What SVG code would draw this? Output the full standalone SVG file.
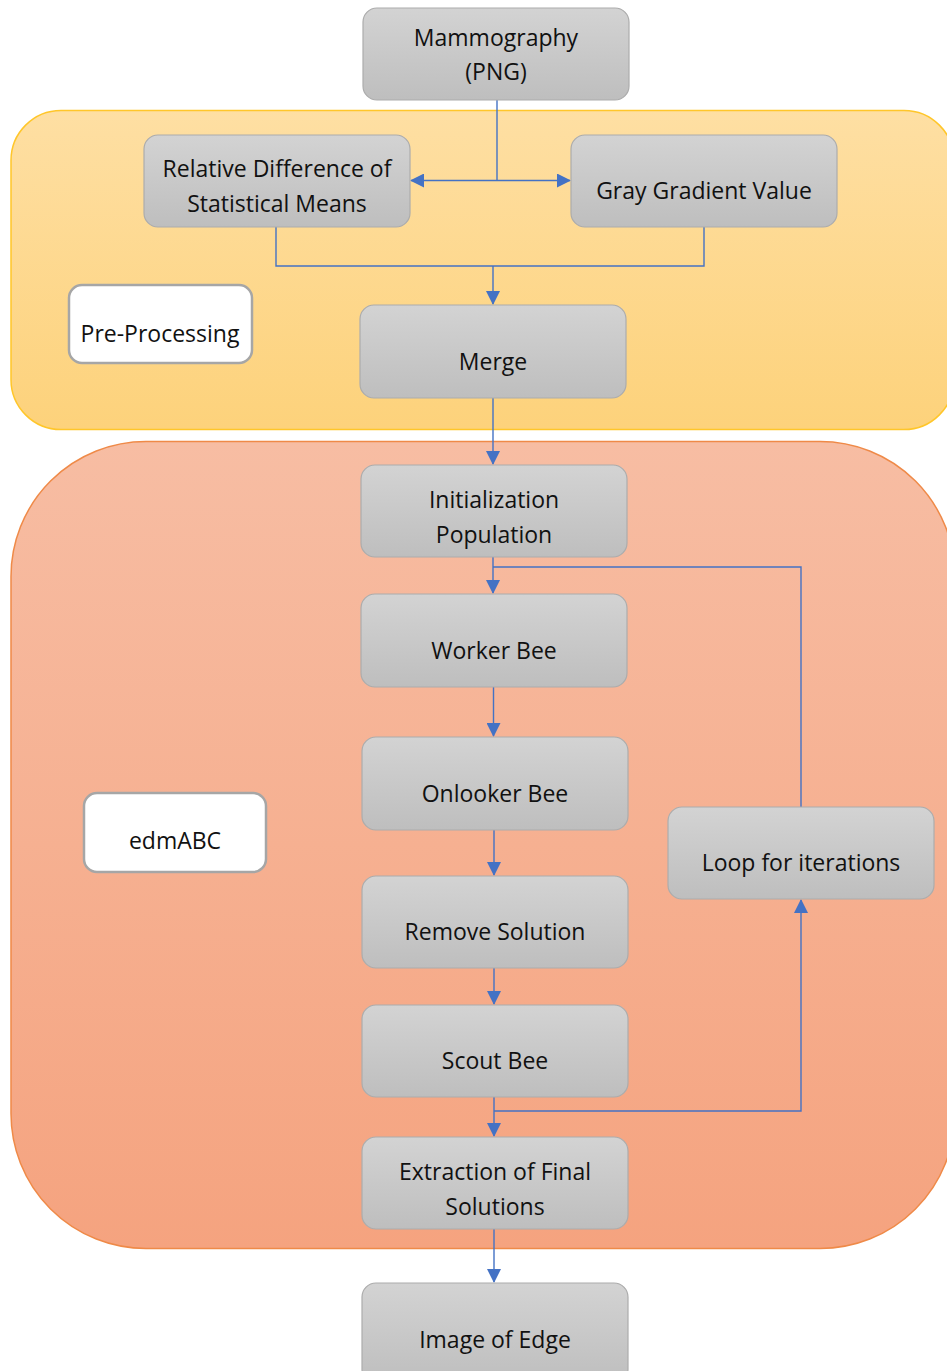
<svg xmlns="http://www.w3.org/2000/svg" width="947" height="1371" viewBox="0 0 947 1371">
  <defs>
    <linearGradient id="gBox" x1="0" y1="0" x2="0" y2="1">
      <stop offset="0" stop-color="#d3d3d3"/>
      <stop offset="1" stop-color="#bebebe"/>
    </linearGradient>
    <linearGradient id="gYellow" x1="0" y1="0" x2="0" y2="1">
      <stop offset="0" stop-color="#fedfa3"/>
      <stop offset="1" stop-color="#fdd27b"/>
    </linearGradient>
    <linearGradient id="gOrange" x1="0" y1="0" x2="0" y2="1">
      <stop offset="0" stop-color="#f7bda3"/>
      <stop offset="1" stop-color="#f5a37f"/>
    </linearGradient>
    <marker id="arrow" viewBox="0 0 14 14" refX="13" refY="7" markerWidth="14" markerHeight="14" markerUnits="userSpaceOnUse" orient="auto">
      <path d="M0,0 L14,7 L0,14 Z" fill="#4472c4"/>
    </marker>
  </defs>
  <style>
    .box { fill: url(#gBox); stroke: #acacac; stroke-width: 1.2; }
    .label { fill: #ffffff; stroke: #a6a6a6; stroke-width: 2.5; }
    text { font-family: "Open Sans", "Noto Sans", sans-serif; font-size: 23px; fill: #111111; text-anchor: middle; }
    .conn { fill: none; stroke: #4472c4; stroke-width: 1.4; }
  </style>

  <rect width="947" height="1371" fill="#ffffff"/>

  <!-- Pre-processing stage container -->
  <g id="stage-preprocessing">
    <rect x="11" y="110.5" width="943" height="319" rx="50" ry="50" fill="url(#gYellow)" stroke="#ffc62a" stroke-width="1.5"/>
  </g>

  <!-- edmABC stage container -->
  <g id="stage-edmabc">
    <rect x="11" y="441.5" width="944" height="807" rx="135" ry="135" fill="url(#gOrange)" stroke="#ef8a48" stroke-width="1.5"/>
  </g>

  <!-- connectors -->
  <g id="connectors">
    <path class="conn" d="M497,100 V180.5"/>
    <path class="conn" d="M497,180.5 H411" marker-end="url(#arrow)"/>
    <path class="conn" d="M497,180.5 H570" marker-end="url(#arrow)"/>
    <path class="conn" d="M276,227 V266 H704 V227"/>
    <path class="conn" d="M493,266 V304" marker-end="url(#arrow)"/>
    <path class="conn" d="M493,398 V464" marker-end="url(#arrow)"/>
    <path class="conn" d="M493,557 V593" marker-end="url(#arrow)"/>
    <path class="conn" d="M493,567 H801 V807"/>
    <path class="conn" d="M493.5,687 V736" marker-end="url(#arrow)"/>
    <path class="conn" d="M494,830 V875" marker-end="url(#arrow)"/>
    <path class="conn" d="M494,968 V1004" marker-end="url(#arrow)"/>
    <path class="conn" d="M494,1097 V1136" marker-end="url(#arrow)"/>
    <path class="conn" d="M494,1111 H801 V900" marker-end="url(#arrow)"/>
    <path class="conn" d="M494,1229 V1282" marker-end="url(#arrow)"/>
  </g>

  <g id="node-mammography">
    <rect class="box" x="363" y="8" width="266" height="92" rx="14"/>
    <text x="496" y="46">Mammography</text>
    <text x="496" y="80">(PNG)</text>
  </g>

  <g id="node-relative-difference">
    <rect class="box" x="144" y="135" width="266" height="92" rx="14"/>
    <text x="277" y="177">Relative Difference of</text>
    <text x="277" y="212">Statistical Means</text>
  </g>

  <g id="node-gray-gradient">
    <rect class="box" x="571" y="135" width="266" height="92" rx="14"/>
    <text x="704" y="199">Gray Gradient Value</text>
  </g>

  <g id="label-preprocessing">
    <rect class="label" x="69" y="285" width="183" height="78" rx="13"/>
    <text x="160" y="342">Pre-Processing</text>
  </g>

  <g id="node-merge">
    <rect class="box" x="360" y="305" width="266" height="93" rx="14"/>
    <text x="493" y="370">Merge</text>
  </g>

  <g id="node-initialization">
    <rect class="box" x="361" y="465" width="266" height="92" rx="14"/>
    <text x="494" y="508">Initialization</text>
    <text x="494" y="543">Population</text>
  </g>

  <g id="node-worker-bee">
    <rect class="box" x="361" y="594" width="266" height="93" rx="14"/>
    <text x="494" y="659">Worker Bee</text>
  </g>

  <g id="node-onlooker-bee">
    <rect class="box" x="362" y="737" width="266" height="93" rx="14"/>
    <text x="495" y="802">Onlooker Bee</text>
  </g>

  <g id="label-edmabc">
    <rect class="label" x="84" y="793" width="182" height="79" rx="13"/>
    <text x="175" y="849">edmABC</text>
  </g>

  <g id="node-loop">
    <rect class="box" x="668" y="807" width="266" height="92" rx="14"/>
    <text x="801" y="871">Loop for iterations</text>
  </g>

  <g id="node-remove-solution">
    <rect class="box" x="362" y="876" width="266" height="92" rx="14"/>
    <text x="495" y="940">Remove Solution</text>
  </g>

  <g id="node-scout-bee">
    <rect class="box" x="362" y="1005" width="266" height="92" rx="14"/>
    <text x="495" y="1069">Scout Bee</text>
  </g>

  <g id="node-extraction">
    <rect class="box" x="362" y="1137" width="266" height="92" rx="14"/>
    <text x="495" y="1180">Extraction of Final</text>
    <text x="495" y="1215">Solutions</text>
  </g>

  <g id="node-image-of-edge">
    <rect class="box" x="362" y="1283" width="266" height="100" rx="14"/>
    <text x="495" y="1348">Image of Edge</text>
  </g>
</svg>
